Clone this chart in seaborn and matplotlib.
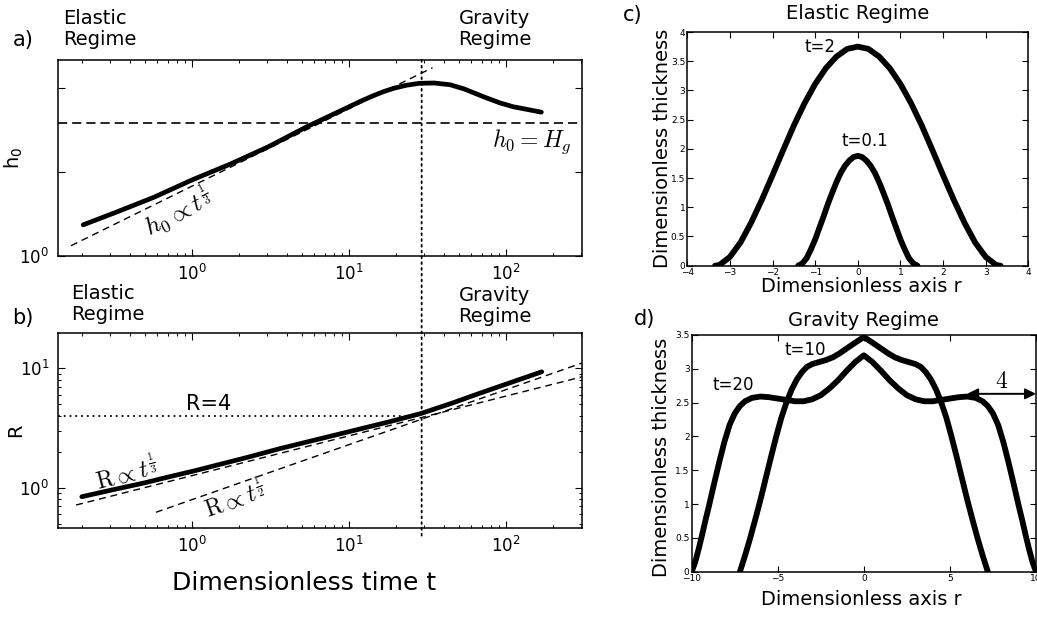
import numpy as np
import pandas as pd
import matplotlib
matplotlib.use("Agg")
import matplotlib.pyplot as plt
import seaborn as sns
from matplotlib.patches import ConnectionPatch
from matplotlib.ticker import (FixedLocator, FixedFormatter, NullLocator,
                               NullFormatter, LogLocator)

# ---------------- data ----------------
# (a) central thickness h0 against dimensionless time
t_h0 = [0.202, 0.326, 0.571, 1.0, 1.75, 3.07, 5.38, 7.53, 10.0, 12.0, 14.0,
        16.5, 19.2, 23.0, 28.0, 35.0, 44.0, 53.5, 65.0, 75.0, 91.5, 111.0,
        142.0, 168.0]
h0 = [1.29, 1.43, 1.62, 1.87, 2.13, 2.46, 2.90, 3.17, 3.42, 3.59, 3.73,
      3.87, 3.98, 4.08, 4.15, 4.16, 4.10, 3.97, 3.80, 3.68, 3.53, 3.42,
      3.33, 3.27]
h0_third_t = [0.169, 34.0]          # h0 ~ t^(1/3) guide
h0_third = [1.086, 4.72]
H_G = 3.0                            # gravity-current thickness
T_TRANSITION = 29.0                  # elastic -> gravity transition time

# (b) radius R against dimensionless time
t_R = [0.198, 0.3, 0.5, 0.724, 1.0, 2.19, 3.64, 10.0, 18.2, 28.9, 45.0,
       67.0, 100.0, 169.0]
R = [0.84, 0.95, 1.10, 1.24, 1.37, 1.78, 2.13, 2.95, 3.58, 4.20, 5.10,
     6.15, 7.38, 9.37]
R_third_t = [0.182, 305.0]           # R ~ t^(1/3) guide
R_third = [0.716, 8.5]
R_half_t = [0.587, 305.0]            # R ~ t^(1/2) guide
R_half = [0.622, 11.1]
R_MARK = 4

# (c) elastic-regime profiles
r_t2 = [-3.35, -3.25, -3.0, -2.75, -2.5, -2.25, -2.0, -1.75, -1.5, -1.25, -1.0,
        -0.75, -0.5, -0.25, 0.0, 0.25, 0.5, 0.75, 1.0, 1.25, 1.5, 1.75, 2.0,
        2.25, 2.5, 2.75, 3.0, 3.25, 3.35]
h_t2 = [0.0, 0.01, 0.15, 0.40, 0.74, 1.13, 1.55, 1.98, 2.40, 2.78, 3.11,
        3.38, 3.58, 3.71, 3.75, 3.71, 3.58, 3.38, 3.11, 2.78, 2.40, 1.98, 1.55,
        1.13, 0.74, 0.40, 0.15, 0.01, 0.0]
r_t01 = [-1.4, -1.3, -1.2, -1.1, -1.0, -0.9, -0.8, -0.7, -0.6, -0.5, -0.4,
         -0.3, -0.2, -0.1, 0.0, 0.1, 0.2, 0.3, 0.4, 0.5, 0.6, 0.7, 0.8, 0.9,
         1.0, 1.1, 1.2, 1.3, 1.4]
h_t01 = [0.0, 0.04, 0.13, 0.28, 0.45, 0.65, 0.85, 1.06, 1.25, 1.43, 1.59,
         1.71, 1.80, 1.86, 1.88, 1.86, 1.80, 1.71, 1.59, 1.43, 1.25, 1.06, 0.85,
         0.65, 0.45, 0.28, 0.13, 0.04, 0.0]

# (d) gravity-regime profiles
r_t10 = [-7.2, -6.9, -6.6, -6.3, -6.0, -5.7, -5.4, -5.1, -4.8, -4.5, -4.2,
         -3.9, -3.6, -3.3, -3.0, -2.6, -2.2, -1.8, -1.4, -1.0, -0.6, -0.3, 0.0,
         0.3, 0.6, 1.0, 1.4, 1.8, 2.2, 2.6, 3.0, 3.3, 3.6, 3.9, 4.2, 4.5, 4.8,
         5.1, 5.4, 5.7, 6.0, 6.3, 6.6, 6.9, 7.2]
h_t10 = [0.0, 0.24, 0.50, 0.78, 1.07, 1.38, 1.69, 1.99, 2.27, 2.50, 2.69,
         2.84, 2.95, 3.03, 3.07, 3.10, 3.13, 3.17, 3.23, 3.30, 3.37, 3.42, 3.47,
         3.42, 3.37, 3.30, 3.23, 3.17, 3.13, 3.10, 3.07, 3.03, 2.95, 2.84, 2.69,
         2.50, 2.27, 1.99, 1.69, 1.38, 1.07, 0.78, 0.50, 0.24, 0.0]
r_t20 = [-10.0, -9.8, -9.6, -9.4, -9.2, -9.0, -8.7, -8.4, -8.1, -7.8, -7.5,
         -7.2, -6.9, -6.5, -6.0, -5.5, -5.0, -4.5, -4.0, -3.5, -3.0, -2.5, -2.0,
         -1.5, -1.0, -0.5, 0.0, 0.5, 1.0, 1.5, 2.0, 2.5, 3.0, 3.5, 4.0, 4.5,
         5.0, 5.5, 6.0, 6.5, 6.9, 7.2, 7.5, 7.8, 8.1, 8.4, 8.7, 9.0, 9.2, 9.4,
         9.6, 9.8, 10.0]
h_t20 = [0.0, 0.14, 0.33, 0.54, 0.76, 0.97, 1.30, 1.62, 1.92, 2.17, 2.34,
         2.45, 2.52, 2.57, 2.59, 2.58, 2.56, 2.54, 2.52, 2.52, 2.55, 2.61, 2.71,
         2.83, 2.97, 3.10, 3.20, 3.10, 2.97, 2.83, 2.71, 2.61, 2.55, 2.52, 2.52,
         2.54, 2.56, 2.58, 2.59, 2.57, 2.52, 2.45, 2.34, 2.17, 1.92, 1.62, 1.30,
         0.97, 0.76, 0.54, 0.33, 0.14, 0.0]
ARROW_START = 6.0
ARROW_LEN = 4
ARROW_H = 2.63

c_xticks = [-4, -3, -2, -1, 0, 1, 2, 3, 4]
c_yticks = [0, 0.5, 1, 1.5, 2, 2.5, 3, 3.5, 4]
d_xticks = [-10, -5, 0, 5, 10]
d_yticks = [0, 0.5, 1, 1.5, 2, 2.5, 3, 3.5]

# ---------------- style ----------------
sns.set_theme(style="ticks")
plt.rcParams.update({
    "font.family": ["DejaVu Sans"],
    "text.color": "black",
    "axes.labelcolor": "black",
    "axes.edgecolor": "black",
    "axes.linewidth": 1.1,
    "xtick.color": "black",
    "ytick.color": "black",
    "xtick.direction": "in",
    "ytick.direction": "in",
    "xtick.top": True,
    "ytick.right": True,
    "xtick.major.size": 5,
    "ytick.major.size": 5,
    "xtick.minor.size": 2.5,
    "ytick.minor.size": 2.5,
    "xtick.major.width": 0.8,
    "ytick.major.width": 0.8,
    "xtick.minor.width": 0.7,
    "ytick.minor.width": 0.7,
})

W, H = 1037, 617
fig = plt.figure(figsize=(W / 100, H / 100), dpi=100)


def fpos(x, y):
    return x / W, 1 - y / H


def box(left, top, right, bottom):
    return [left / W, 1 - bottom / H, (right - left) / W, (bottom - top) / H]


ax_a = fig.add_axes(box(57.7, 60.0, 582.0, 255.7))
ax_b = fig.add_axes(box(57.7, 333.3, 582.0, 527.7))
ax_c = fig.add_axes(box(687.3, 32.0, 1028.3, 265.7))
ax_d = fig.add_axes(box(691.7, 335.0, 1036.0, 571.7))

DASH = (0, (5, 3.5))
DOT = (0, (1, 2.2))
CM = dict(math_fontfamily="cm")
PROFILE = dict(color="black", linewidth=4.2, estimator=None, sort=False)

# ---------------- (a) ----------------
sns.lineplot(data=pd.DataFrame({"t": t_h0, "h0": h0}), x="t", y="h0", ax=ax_a,
             color="black", linewidth=3.4, estimator=None, sort=False)
ax_a.plot(h0_third_t, h0_third, color="black", lw=1.0, ls=DASH)
ax_a.axhline(H_G, color="black", lw=1.2, ls=(0, (5.5, 3)))
ax_a.set_xscale("log")
ax_a.set_yscale("log")
ax_a.set_xlim(0.139, 305)
ax_a.set_ylim(1, 5.03)
ax_a.yaxis.set_major_locator(FixedLocator([1, 2, 4]))
ax_a.yaxis.set_major_formatter(FixedFormatter([r"$10^0$", "", ""]))
ax_a.yaxis.set_minor_locator(NullLocator())
ax_a.text(0.54, 1.17, r"$h_0 \propto t^{\frac{1}{3}}$", rotation=27,
          rotation_mode="anchor", ha="left", va="baseline", fontsize=18, **CM)
ax_a.text(263, 2.45, r"$h_0 = H_g$", ha="right", va="baseline", fontsize=17, **CM)
ax_a.set_ylabel(r"$\mathregular{h_0}$", fontsize=14)
ax_a.set_xlabel("")

# ---------------- (b) ----------------
sns.lineplot(data=pd.DataFrame({"t": t_R, "R": R}), x="t", y="R", ax=ax_b,
             color="black", linewidth=3.4, estimator=None, sort=False)
ax_b.plot(R_third_t, R_third, color="black", lw=1.0, ls=DASH)
ax_b.plot(R_half_t, R_half, color="black", lw=1.0, ls=DASH)
ax_b.set_xscale("log")
ax_b.set_yscale("log")
ax_b.set_xlim(0.139, 305)
ax_b.set_ylim(0.462, 19.7)
ax_b.hlines(R_MARK, 0.139, T_TRANSITION, color="black", lw=1.3, ls=DOT)
ax_b.text(1.28, R_MARK * 1.12, f"R={R_MARK}", ha="center", va="baseline", fontsize=15)
ax_b.text(0.252, 0.957, r"$\mathrm{R} \propto t^{\frac{1}{3}}$", rotation=14.5,
          rotation_mode="anchor", ha="left", va="baseline", fontsize=17, **CM)
ax_b.text(1.27, 0.554, r"$\mathrm{R} \propto t^{\frac{1}{2}}$", rotation=19.5,
          rotation_mode="anchor", ha="left", va="baseline", fontsize=17, **CM)
ax_b.set_ylabel("R", fontsize=14)
ax_b.set_xlabel("Dimensionless time t", fontsize=18)

for ax in (ax_a, ax_b):
    ax.xaxis.set_major_locator(LogLocator(base=10, numticks=10))
    ax.xaxis.set_minor_locator(LogLocator(base=10, subs=np.arange(2, 10), numticks=10))
    ax.xaxis.set_minor_formatter(NullFormatter())
    ax.tick_params(axis="both", which="major", labelsize=12, pad=6)
    ax.yaxis.set_label_coords(-0.062, 0.5)
ax_b.yaxis.set_minor_formatter(NullFormatter())
ax_b.xaxis.set_label_coords(0.47, -0.225)

# dotted transition line through both panels
con = ConnectionPatch(xyA=(T_TRANSITION, 1.0), coordsA=ax_a.get_xaxis_transform(),
                      xyB=(T_TRANSITION, -0.048), coordsB=ax_b.get_xaxis_transform(),
                      color="black", lw=1.3, ls=DOT)
fig.add_artist(con)

# ---------------- (c) ----------------
for r, h in ((r_t2, h_t2), (r_t01, h_t01)):
    sns.lineplot(data=pd.DataFrame({"r": r, "h": h}), x="r", y="h", ax=ax_c, **PROFILE)
ax_c.set_xlim(-4, 4)
ax_c.set_ylim(0, 4)
ax_c.text(-0.887, 3.75, "t=2", ha="center", va="center", fontsize=12)
ax_c.text(0.17, 2.13, "t=0.1", ha="center", va="center", fontsize=12)
ax_c.set_title("Elastic Regime", fontsize=14, y=1.081, va="center", pad=0)

# ---------------- (d) ----------------
for r, h in ((r_t10, h_t10), (r_t20, h_t20)):
    sns.lineplot(data=pd.DataFrame({"r": r, "h": h}), x="r", y="h", ax=ax_d, **PROFILE)
ax_d.set_xlim(-10, 10)
ax_d.set_ylim(0, 3.5)
ax_d.text(-3.41, 3.28, "t=10", ha="center", va="center", fontsize=12)
ax_d.text(-7.6, 2.76, "t=20", ha="center", va="center", fontsize=12)
ax_d.annotate("", xy=(ARROW_START + ARROW_LEN, ARROW_H), xytext=(ARROW_START, ARROW_H),
              arrowprops=dict(arrowstyle="<|-|>", color="black", lw=1.4,
                              mutation_scale=16, shrinkA=0, shrinkB=0),
              annotation_clip=False)
ax_d.text(ARROW_START + ARROW_LEN / 2, 2.82, f"${ARROW_LEN}$", ha="center",
          va="center", fontsize=17, **CM)
ax_d.set_title("Gravity Regime", fontsize=14, y=1.063, va="center", pad=0)


def minus(v):
    return f"{v:g}".replace("-", "\u2212")


for ax, xt, yt in ((ax_c, c_xticks, c_yticks), (ax_d, d_xticks, d_yticks)):
    ax.set_xticks(xt, [minus(v) for v in xt])
    ax.set_yticks(yt, [minus(v) for v in yt])
    ax.tick_params(axis="both", which="major", labelsize=6.5, pad=1.5, length=4)
    ax.set_xlabel("Dimensionless axis r", fontsize=14)
    ax.set_ylabel("Dimensionless thickness", fontsize=14)

ax_c.xaxis.set_label_coords(0.511, -0.05)
ax_c.yaxis.set_label_coords(-0.046, 0.5)
ax_d.xaxis.set_label_coords(0.494, -0.077)
ax_d.yaxis.set_label_coords(-0.06, 0.485)

# ---------------- panel tags and regime labels ----------------
fig.text(*fpos(23, 40), "a)", ha="center", va="center", fontsize=15)
fig.text(*fpos(23, 318), "b)", ha="center", va="center", fontsize=15)
fig.text(*fpos(633, 15), "c)", ha="center", va="center", fontsize=15)
fig.text(*fpos(645, 319), "d)", ha="center", va="center", fontsize=15)
fig.text(*fpos(63, 9), "Elastic\nRegime", ha="left", va="top", fontsize=14,
         linespacing=1.15)
fig.text(*fpos(495, 9), "Gravity\nRegime", ha="center", va="top", fontsize=14,
         linespacing=1.15)
fig.text(*fpos(71, 284), "Elastic\nRegime", ha="left", va="top", fontsize=14,
         linespacing=1.15)
fig.text(*fpos(495, 286), "Gravity\nRegime", ha="center", va="top", fontsize=14,
         linespacing=1.15)

fig.savefig("out.png", dpi=100)
